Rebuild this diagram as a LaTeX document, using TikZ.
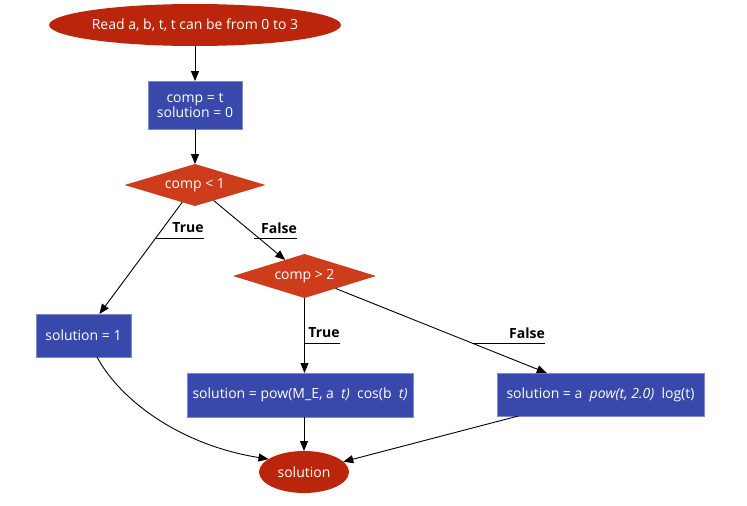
\documentclass[tikz,border=0pt]{standalone}
\usepackage{fontspec}
\setmainfont{Open Sans}
\usetikzlibrary{shapes.geometric,arrows.meta}
\definecolor{ellred}{HTML}{BA250C}
\definecolor{diared}{HTML}{CD3D1B}
\definecolor{boxblue}{HTML}{3949AB}
\definecolor{boxedge}{HTML}{7F8BCF}
\begin{document}
\begin{tikzpicture}[x=1pt,y=-1pt,
  every node/.style={inner sep=0pt,outer sep=0pt,text=white,font=\fontsize{14}{15}\selectfont},
  ell/.style={ellipse,fill=ellred},
  dia/.style={diamond,fill=diared,aspect=3.3},
  proc/.style={rectangle,fill=boxblue,draw=boxedge,line width=0.5pt,align=center},
  arr/.style={draw=black,line width=0.9pt,-{Triangle[length=10pt,width=8pt]}},
  lbl/.style={text=black,font=\fontsize{14}{15}\selectfont\bfseries},
  uline/.style={draw=black,line width=0.9pt}]
\useasboundingbox (0,0) rectangle (747,506);
\node[ell,minimum width=282pt,minimum height=42pt] (start) at (195,25) {Read a, b, t, t can be from 0 to 3};
\node[proc,minimum width=94pt,minimum height=48pt] (init) at (195,105) {comp = t\\solution = 0};
\node[diamond,fill=diared,minimum width=141pt,minimum height=42pt] (d1) at (195,185) {};
\node at (d1) {comp < 1};
\node[diamond,fill=diared,minimum width=143pt,minimum height=44pt] (d2) at (304.5,276) {};
\node at (d2) {comp > 2};
\node[proc,minimum width=95pt,minimum height=43pt] (s1) at (83.5,335.5) {solution = 1};
\node[proc,minimum width=226pt,minimum height=44pt] (s2) at (300,395) {solution = pow(M\_E, a \ \textit{t)} \ cos(b \ \textit{t)}};
\node[proc,minimum width=207pt,minimum height=43pt] (s3) at (600.5,394.5) {solution = a \ \textit{pow(t, 2.0)} \ log(t)};
\node[ell,minimum width=90pt,minimum height=42pt] (sol) at (304,472) {solution};

\draw[arr] (start) -- (init);
\draw[arr] (init) -- (d1);
\draw[arr] (d1) -- (s1);
\draw[arr] (d1) -- (d2);
\draw[arr] (d2.south) -- (d2.south |- s2.north);
\draw[arr] (d2) -- (s3);
\draw[arr] ([xshift=13.5pt]s1.south) .. controls (120,400) and (180,445) .. (sol.160);
\draw[arr] (s2.south -| sol.north) -- (sol.north);
\draw[arr] (s3) -- (sol);

\node[lbl] (l1) at (188,228) {True};
\node[lbl] (l2) at (279,228) {False};
\node[lbl] (l3) at (324,333) {True};
\node[lbl] (l4) at (527,333) {False};
\coordinate (u1) at (155.5,238);
\coordinate (u2) at (254,238);
\coordinate (u3) at (304.5,343);
\coordinate (u4) at (472,343);
\draw[uline] (u1) -- (u1 -| l1.east);
\draw[uline] (u2) -- (u2 -| l2.east);
\draw[uline] (u3) -- (u3 -| l3.east);
\draw[uline] (u4) -- (u4 -| l4.east);
\end{tikzpicture}
\end{document}
